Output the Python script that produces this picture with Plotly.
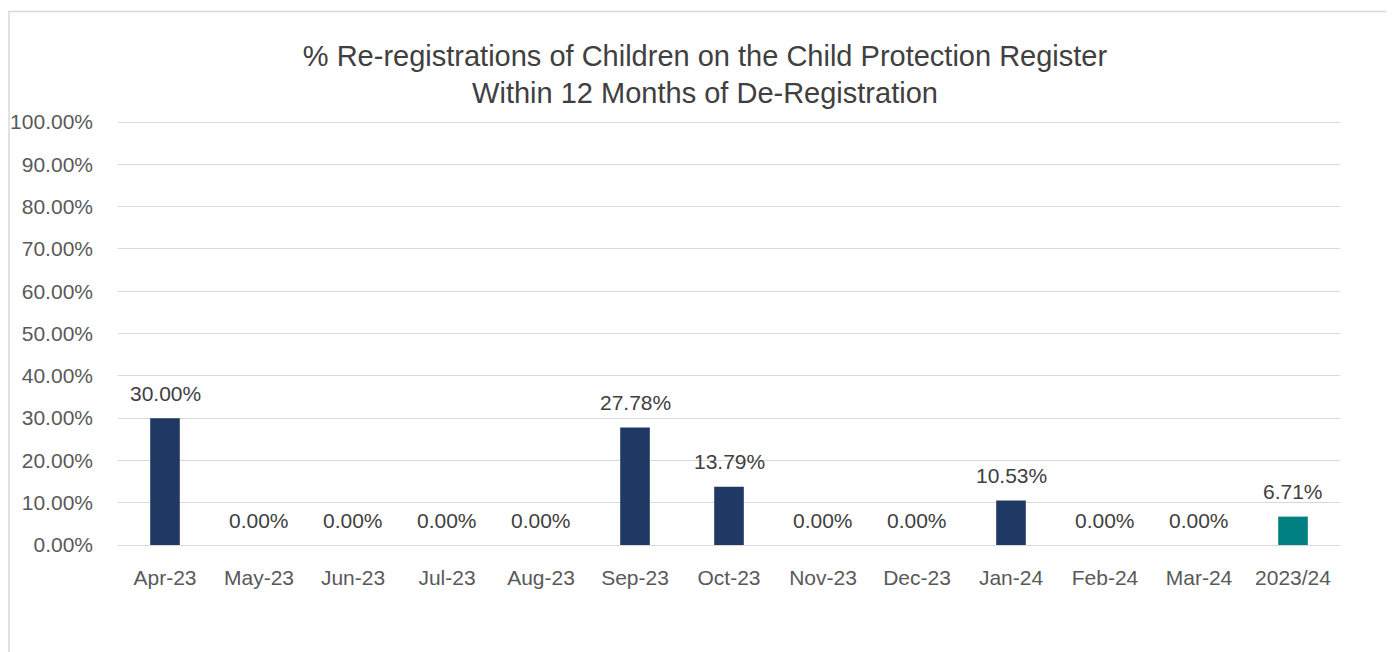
import plotly.graph_objects as go

categories = ["Apr-23", "May-23", "Jun-23", "Jul-23", "Aug-23", "Sep-23", "Oct-23",
              "Nov-23", "Dec-23", "Jan-24", "Feb-24", "Mar-24", "2023/24"]
values = [0.30, 0.0, 0.0, 0.0, 0.0, 0.2778, 0.1379, 0.0, 0.0, 0.1053, 0.0, 0.0, 0.0671]
bar_colors = ["#203864"] * 12 + ["#008080"]
title_text = "% Re-registrations of Children on the Child Protection Register<br>Within 12 Months of De-Registration"

W, H = 1394, 652
YMAX = 1.005
ML, MR, MT, MB = 110, 62, 112, 115
pw, ph = W - ML - MR, H - MT - MB

FONT = "Liberation Sans"

fig = go.Figure(go.Bar(
    x=categories, y=values, marker=dict(color=bar_colors, line=dict(width=0)),
    hoverinfo="x+y",
))

for c, v in zip(categories, values):
    fig.add_annotation(x=c, y=v, xref="x", yref="y", text=f"{v*100:.2f}%",
                       showarrow=False, yanchor="middle", yshift=25,
                       font=dict(size=21, color="#404040", family=FONT))

def px_x(p):
    return (p - ML) / pw

def px_y(p):
    return (H - MB - p) / ph

fig.add_shape(type="rect", xref="paper", yref="paper",
              x0=px_x(1), x1=px_x(W + 20), y0=px_y(H + 20), y1=px_y(3.5),
              line=dict(color="#d9d9d9", width=1.5), fillcolor="rgba(0,0,0,0)")

fig.update_layout(
    width=W, height=H, autosize=False,
    margin=dict(l=ML, r=MR, t=MT, b=MB, autoexpand=False),
    paper_bgcolor="white", plot_bgcolor="white",
    bargap=0.685, showlegend=False,
    title=dict(text=title_text, x=0.5, xanchor="center", xref="container",
               y=1 - 57.5 / H, yanchor="middle", yref="container",
               font=dict(size=29, color="#404040", family=FONT)),
    font=dict(family=FONT, color="#595959"),
)
fig.update_yaxes(range=[0, YMAX], tickvals=[i / 10 for i in range(11)], tickformat=".2%",
                 showgrid=True, gridcolor="#d9d9d9", gridwidth=1.3,
                 zeroline=True, zerolinecolor="#d9d9d9", zerolinewidth=1.3,
                 showline=False, ticks="", ticklabelstandoff=24, automargin=False,
                 tickfont=dict(size=21, color="#595959", family=FONT))
fig.update_xaxes(showgrid=False, showline=False, ticks="", ticklabelstandoff=18,
                 automargin=False,
                 tickfont=dict(size=21, color="#595959", family=FONT))

fig.write_html("out.html")
